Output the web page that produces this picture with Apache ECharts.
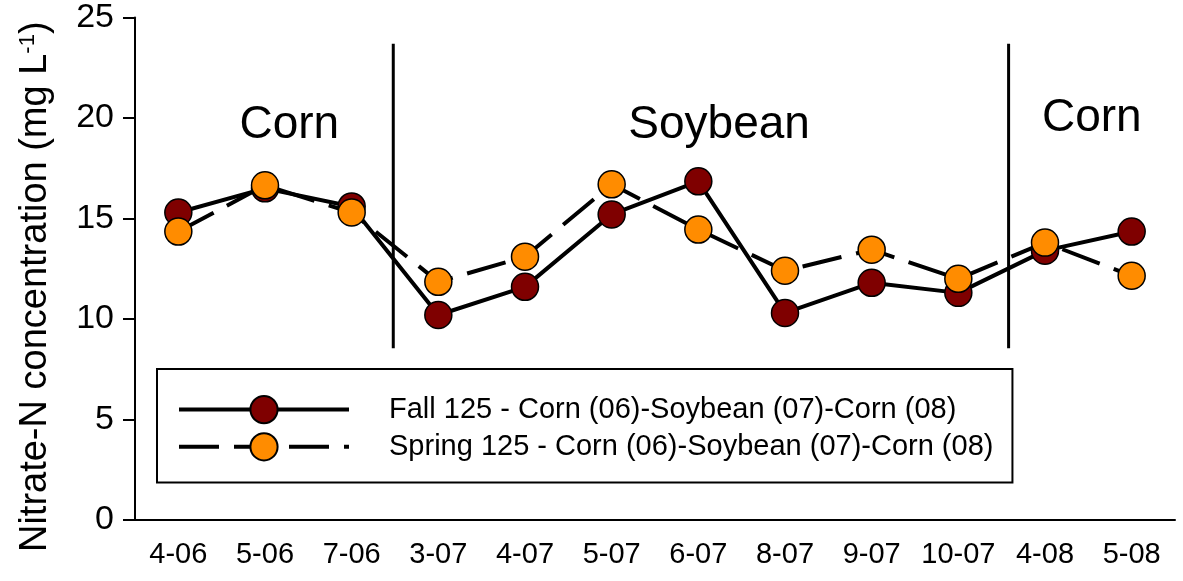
<!DOCTYPE html>
<html><head><meta charset="utf-8">
<script src="https://cdn.jsdelivr.net/npm/echarts@6/dist/echarts.min.js"></script>
<style>html,body{margin:0;padding:0;background:#fff}#c{width:1183px;height:581px}</style>
</head><body><div id="c"></div>
<script>
const categories = ['4-06','5-06','7-06','3-07','4-07','5-07','6-07','8-07','9-07','10-07','4-08','5-08'];
const fallValues = [15.3, 16.5, 15.6, 10.2, 11.6, 15.2, 16.85, 10.3, 11.8, 11.3, 13.4, 14.35];
const springValues = [14.35, 16.65, 15.3, 11.85, 13.1, 16.7, 14.45, 12.4, 13.45, 12.0, 13.8, 12.15];
const seriesNames = ['Fall 125 - Corn (06)-Soybean (07)-Corn (08)', 'Spring 125 - Corn (06)-Soybean (07)-Corn (08)'];
const yTicks = [0, 5, 10, 15, 20, 25];
const dividerX = [2.48, 9.58];
const dividerY = [23.7, 8.55];
const cropLabels = ['Corn', 'Soybean', 'Corn'];
const cropLabelX = [1.28, 6.24, 10.54];
const cropLabelY = [19.65, 19.65, 20.0];

const FONT = '"Liberation Sans", Arial, sans-serif';
const chart = echarts.init(document.getElementById('c'));
const dividerSeries = dividerX.map(x => ({
  type: 'line', xAxisIndex: 1, yAxisIndex: 0, silent: true, symbol: 'none',
  lineStyle: {color: '#000', width: 3}, z: 1,
  data: [[x, dividerY[0]], [x, dividerY[1]]]
}));
chart.setOption({
  animation: false,
  textStyle: {fontFamily: FONT},
  grid: {left: 135, right: 8, top: 17.5, bottom: 61, containLabel: false, outerBoundsMode: 'none'},
  xAxis: [{
    type: 'category', data: categories, boundaryGap: true,
    axisLine: {onZero: false, lineStyle: {color: '#000', width: 2}},
    axisTick: {alignWithLabel: true, interval: 0, length: 11, lineStyle: {color: '#000', width: 2}},
    axisLabel: {color: '#000', fontSize: 29, margin: 20, interval: 0, fontFamily: FONT}
  }, {
    type: 'value', min: -0.5, max: 11.5, show: false, axisLine: {onZero: false}
  }],
  yAxis: {
    type: 'value', min: yTicks[0], max: yTicks[yTicks.length - 1], interval: 5,
    axisLine: {show: true, onZero: false, lineStyle: {color: '#000', width: 2}},
    axisTick: {show: true, length: 12, lineStyle: {color: '#000', width: 2}},
    splitLine: {show: false},
    axisLabel: {color: '#000', fontSize: 34, margin: 21, fontFamily: FONT},
    name: 'Nitrate-N concentration (mg L{sup|-1})',
    nameLocation: 'middle', nameGap: 80, nameRotate: 90,
    nameTextStyle: {color: '#000', fontSize: 38, fontFamily: FONT, padding: [0, 36, 0, 0],
      rich: {sup: {fontSize: 22, verticalAlign: 'top', padding: [0, 0, 16, 0], color: '#000', fontFamily: FONT}}}
  },
  legend: {
    orient: 'vertical', left: 157, top: 369, selectedMode: false,
    data: seriesNames,
    itemWidth: 170, itemHeight: 34, itemGap: 8,
    padding: [26, 19, 21, 20],
    borderColor: '#000', borderWidth: 2,
    lineStyle: {width: 4},
    textStyle: {color: '#000', fontSize: 29, padding: [0, 0, 0, 35], fontFamily: FONT}
  },
  series: [
    ...dividerSeries,
    {
      name: seriesNames[0], type: 'line', data: fallValues, z: 3,
      symbol: 'circle', symbolSize: 27,
      lineStyle: {color: '#000', width: 4},
      itemStyle: {color: '#7f0000', borderColor: '#000', borderWidth: 1.5}
    },
    {
      name: seriesNames[1], type: 'line', data: springValues, z: 4,
      symbol: 'circle', symbolSize: 27,
      lineStyle: {color: '#000', width: 4, type: [40, 15]},
      itemStyle: {color: '#ff8c00', borderColor: '#000', borderWidth: 1.5}
    },
    {
      type: 'scatter', xAxisIndex: 1, symbolSize: 1, silent: true,
      itemStyle: {opacity: 1, color: 'rgba(0,0,0,0)'},
      data: cropLabels.map((t, i) => ({value: [cropLabelX[i], cropLabelY[i]], name: t})),
      label: {show: true, position: 'inside', formatter: p => p.name, color: '#000', opacity: 1, fontSize: 46, fontFamily: FONT}
    }
  ]
});
</script></body></html>
